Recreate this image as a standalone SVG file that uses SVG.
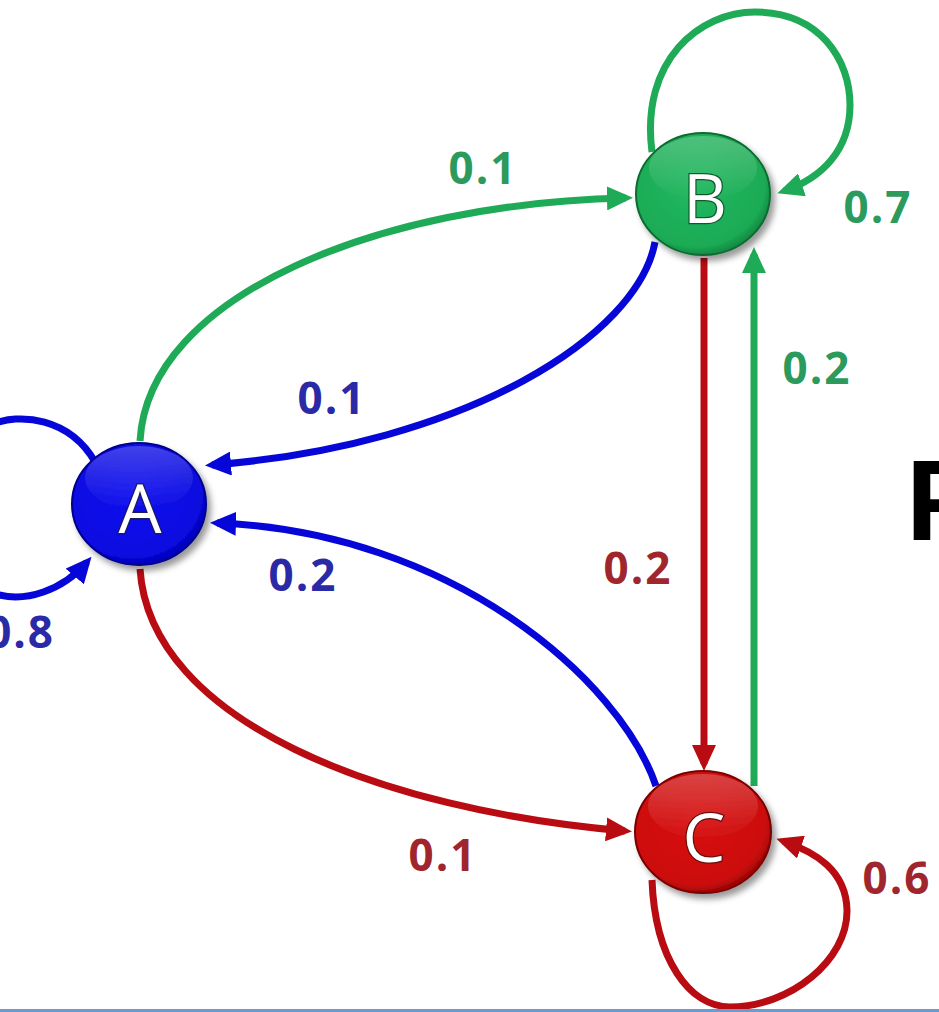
<svg xmlns="http://www.w3.org/2000/svg" width="939" height="1012" viewBox="0 0 939 1012">
  <style>
    .edge { fill: none; stroke-width: 7; }
    .g { stroke: #1faa57; }
    .b { stroke: #0606d8; }
    .r { stroke: #b80c12; }
    .lbl { font-family: "Open Sans", "Liberation Sans", sans-serif; font-weight: bold; font-size: 44px; letter-spacing: 2px; text-anchor: middle; }
    .lg { fill: #2b9a5c; }
    .lb { fill: #2a2aa6; }
    .lr { fill: #a0262e; }
    .letter { font-family: "Open Sans", "Liberation Sans", sans-serif; font-size: 68px; fill: #ffffff; stroke-width: 2.5; paint-order: stroke; text-anchor: middle; }
  </style>
  <defs>
    <marker id="ah-g" markerUnits="userSpaceOnUse" viewBox="0 0 26 24" markerWidth="26" markerHeight="24" refX="19" refY="12" orient="auto">
      <path d="M0,0 L26,12 L0,24 Z" fill="#1faa57"/>
    </marker>
    <marker id="ah-b" markerUnits="userSpaceOnUse" viewBox="0 0 26 24" markerWidth="26" markerHeight="24" refX="19" refY="12" orient="auto">
      <path d="M0,0 L26,12 L0,24 Z" fill="#0606d8"/>
    </marker>
    <marker id="ah-r" markerUnits="userSpaceOnUse" viewBox="0 0 26 24" markerWidth="26" markerHeight="24" refX="19" refY="12" orient="auto">
      <path d="M0,0 L26,12 L0,24 Z" fill="#b80c12"/>
    </marker>
    <radialGradient id="fill-b" cx="0.45" cy="0.42" r="0.62">
      <stop offset="0" stop-color="#1010f0"/>
      <stop offset="0.82" stop-color="#0808e0"/>
      <stop offset="1" stop-color="#0000a0"/>
    </radialGradient>
    <radialGradient id="fill-g" cx="0.45" cy="0.42" r="0.62">
      <stop offset="0" stop-color="#22b860"/>
      <stop offset="0.82" stop-color="#1cab55"/>
      <stop offset="1" stop-color="#0c7a3a"/>
    </radialGradient>
    <radialGradient id="fill-r" cx="0.45" cy="0.42" r="0.62">
      <stop offset="0" stop-color="#d81212"/>
      <stop offset="0.82" stop-color="#cc0c0c"/>
      <stop offset="1" stop-color="#880000"/>
    </radialGradient>
    <linearGradient id="gloss" x1="0" y1="0" x2="0" y2="1">
      <stop offset="0" stop-color="#ffffff" stop-opacity="0.22"/>
      <stop offset="1" stop-color="#ffffff" stop-opacity="0"/>
    </linearGradient>
    <filter id="shadow" x="-30%" y="-30%" width="160%" height="160%">
      <feDropShadow dx="4" dy="5" stdDeviation="3" flood-color="#000000" flood-opacity="0.4"/>
    </filter>
  </defs>

  <rect width="939" height="1012" fill="#ffffff"/>

  <!-- connectors -->
  <g id="edges">
    <path id="e-AB" class="edge g" d="M140 441 C148 295 380 203 626 198" marker-end="url(#ah-g)"/>
    <path id="e-BA" class="edge b" d="M655 242 C638 335 468 445 212 465" marker-end="url(#ah-b)"/>
    <path id="e-CA" class="edge b" d="M656 786 C620 680 452 532 217 523" marker-end="url(#ah-b)"/>
    <path id="e-AC" class="edge r" d="M140 569 C150 722 382 810 625 831" marker-end="url(#ah-r)"/>
    <path id="e-BC" class="edge r" d="M704 258 L704 764" marker-end="url(#ah-r)"/>
    <path id="e-CB" class="edge g" d="M754 786 L754 254" marker-end="url(#ah-g)"/>
    <path id="e-BB" class="edge g" d="M652 152 C640 60 700 12 755 12 C820 12 850 60 850 105 C850 150 822 178 784 191" marker-end="url(#ah-g)"/>
    <path id="e-CC" class="edge r" d="M652 880 C655 960 690 1007 730 1007 C790 1007 848 960 847 910 C846 870 815 852 783 841" marker-end="url(#ah-r)"/>
    <path id="e-AA" class="edge b" d="M95 462 C70 418 20 412 -10 425 C-50 445 -55 575 -10 592 C25 606 65 588 87 562" marker-end="url(#ah-b)"/>
  </g>

  <!-- edge labels -->
  <g id="labels">
    <text class="lbl lg" x="483" y="184">0.1</text>
    <text class="lbl lb" x="332" y="414">0.1</text>
    <text class="lbl lb" x="303" y="591">0.2</text>
    <text class="lbl lr" x="443" y="871">0.1</text>
    <text class="lbl lr" x="638" y="584">0.2</text>
    <text class="lbl lg" x="817" y="384">0.2</text>
    <text class="lbl lg" x="878" y="223">0.7</text>
    <text class="lbl lr" x="897" y="894">0.6</text>
    <text class="lbl lb" x="55" y="648" style="text-anchor:end">0.8</text>
  </g>

  <!-- nodes -->
  <g id="node-A" filter="url(#shadow)">
    <ellipse cx="139" cy="504" rx="67" ry="61" fill="url(#fill-b)" stroke="#00008a" stroke-width="2"/>
    <ellipse cx="139" cy="478" rx="54" ry="32" fill="url(#gloss)"/>
    <text class="letter" x="140" y="533" stroke="#1a1a60">A</text>
  </g>
  <g id="node-B" filter="url(#shadow)">
    <ellipse cx="703" cy="194" rx="67" ry="61" fill="url(#fill-g)" stroke="#0a6a32" stroke-width="2"/>
    <ellipse cx="703" cy="168" rx="54" ry="32" fill="url(#gloss)"/>
    <text class="letter" x="705" y="223" stroke="#0d5a2c">B</text>
  </g>
  <g id="node-C" filter="url(#shadow)">
    <ellipse cx="703" cy="832" rx="68" ry="61" fill="url(#fill-r)" stroke="#7a0000" stroke-width="2"/>
    <ellipse cx="703" cy="806" rx="55" ry="32" fill="url(#gloss)"/>
    <text class="letter" x="704" y="862" stroke="#6a0a0a">C</text>
  </g>

  <text id="matrix-P" x="906" y="540" font-family="Liberation Sans, Arial, sans-serif" font-weight="bold" font-size="115" fill="#000000">P</text>

  <rect x="0" y="1009" width="939" height="3" fill="#6b9bd1"/>
</svg>
